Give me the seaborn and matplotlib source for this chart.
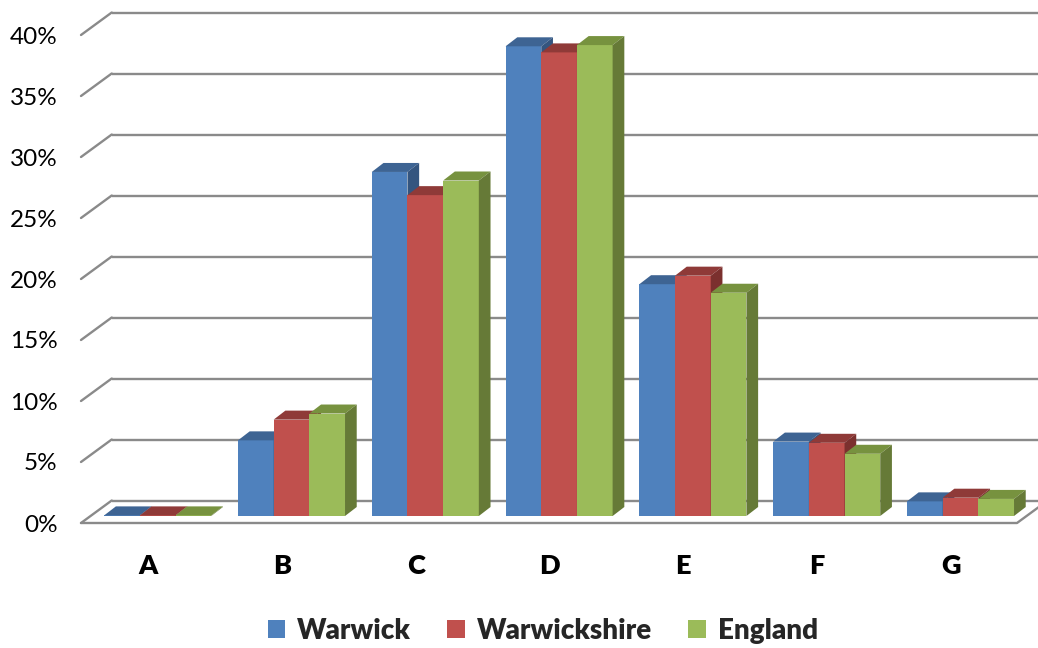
import numpy as np
import pandas as pd
import seaborn as sns
import matplotlib.pyplot as plt
from matplotlib.colors import to_rgba
from matplotlib.patches import Polygon, Patch

# Share of pupils by grade
grades = ["A", "B", "C", "D", "E", "F", "G"]
series = ["Warwick", "Warwickshire", "England"]
warwick = [0.05, 6.2, 28.2, 38.5, 19.0, 6.1, 1.2]
warwickshire = [0.05, 7.9, 26.3, 38.0, 19.7, 6.0, 1.5]
england = [0.05, 8.4, 27.5, 38.6, 18.3, 5.1, 1.4]
y_ticks = [0, 5, 10, 15, 20, 25, 30, 35, 40]
y_tick_labels = [f"{v}%" for v in y_ticks]

front_colors = ["#4F81BD", "#C0504D", "#9BBB59"]
top_colors = ["#3E6493", "#8F3A38", "#77923F"]
side_colors = ["#34557F", "#7B302E", "#667A37"]
grid_color = "#8A8A8A"

df = pd.DataFrame({
    "grade": grades * 3,
    "series": [s for s in series for _ in grades],
    "value": warwick + warwickshire + england,
})

sns.set_style("white")
plt.rcParams["font.family"] = ["Lato", "DejaVu Sans"]

W, H = 1038, 648
fig = plt.figure(figsize=(W / 100, H / 100), dpi=100)
fig.patch.set_facecolor("white")

# pixel frame of the floor / wall projection
px_left, px_right, px_bottom, px_top = 81, 1060, 523, 12
ax = fig.add_axes([px_left / W, (H - px_bottom) / H,
                   (px_right - px_left) / W, (px_bottom - px_top) / H])

x_unit, y_unit = 133.8, 12.2          # pixels per category / per percent
x0_px, y0_px = 157.7, 516             # first category centre, bar base
xlim = ((px_left - x0_px) / x_unit, (px_right - x0_px) / x_unit)
ylim = ((y0_px - px_bottom) / y_unit, (y0_px - px_top) / y_unit)

# oblique depth of the floor and of a single bar
wall_dx, wall_dy = 30.7 / x_unit, 22.5 / y_unit
bar_dx, bar_dy = 11.7 / x_unit, 9.0 / y_unit
front_off = ylim[0]
back_off = front_off + wall_dy
x_front_left = xlim[0]
x_back_left = x_front_left + wall_dx
x_floor_front_right = (1017 - x0_px) / x_unit
x_back_right = x_floor_front_right + wall_dx

sns.barplot(data=df, x="grade", y="value", hue="series", hue_order=series,
            palette=front_colors, width=0.8, dodge=True, saturation=1,
            linewidth=0, legend=False, ax=ax)

# back wall gridlines and side wall diagonals
for v in y_ticks:
    ax.plot([x_back_left, x_back_right], [v + back_off, v + back_off],
            color=grid_color, lw=1.7, zorder=1, solid_capstyle="butt", clip_on=False)
    ax.plot([x_front_left, x_back_left], [v + front_off, v + back_off],
            color=grid_color, lw=1.7, zorder=1, clip_on=False)
# floor front edge
ax.plot([x_front_left, x_floor_front_right, x_back_right],
        [front_off, front_off, back_off],
        color=grid_color, lw=1.7, zorder=1, clip_on=False)

# give every bar a top and a side face
bars = sorted(ax.patches, key=lambda p: p.get_x())
for k, bar in enumerate(bars):
    x0, w, h = bar.get_x(), bar.get_width(), bar.get_height()
    fc = np.array(bar.get_facecolor())
    idx = int(np.argmin([np.abs(np.array(to_rgba(c)) - fc).sum() for c in front_colors]))
    z = 2 + k * 0.01
    bar.set_zorder(z)
    top = Polygon([(x0, h), (x0 + w, h), (x0 + w + bar_dx, h + bar_dy), (x0 + bar_dx, h + bar_dy)],
                  closed=True, facecolor=top_colors[idx], edgecolor="none", zorder=z + 0.003)
    side = Polygon([(x0 + w, 0), (x0 + w, h), (x0 + w + bar_dx, h + bar_dy), (x0 + w + bar_dx, bar_dy)],
                   closed=True, facecolor=side_colors[idx], edgecolor="none", zorder=z + 0.006)
    ax.add_patch(top)
    ax.add_patch(side)

ax.set_xlim(*xlim)
ax.set_ylim(*ylim)
ax.set_xlabel("")
ax.set_ylabel("")
for s in ax.spines.values():
    s.set_visible(False)

label_shift = 9.7 / x_unit
ax.set_xticks([i - label_shift for i in range(len(grades))])
ax.set_xticklabels(grades, fontsize=19.5, fontweight="heavy", color="black")
ax.set_yticks([v + front_off for v in y_ticks])
ax.set_yticklabels(y_tick_labels, fontsize=17.5, color="black")
ax.tick_params(axis="x", length=0, pad=22)
ax.tick_params(axis="y", length=0, pad=17)
ax.patch.set_alpha(0)

handles = [Patch(facecolor=c, edgecolor="none") for c in front_colors]
fig.legend(handles, series, loc="center", bbox_to_anchor=(543 / W, 1 - 631 / H),
           ncol=3, frameon=False, handlelength=0.62, handleheight=0.62,
           handletextpad=0.45, columnspacing=1.3,
           prop={"family": ["Lato", "DejaVu Sans"], "weight": "heavy", "size": 20})

fig.savefig("out.png", dpi=100, facecolor="white")
